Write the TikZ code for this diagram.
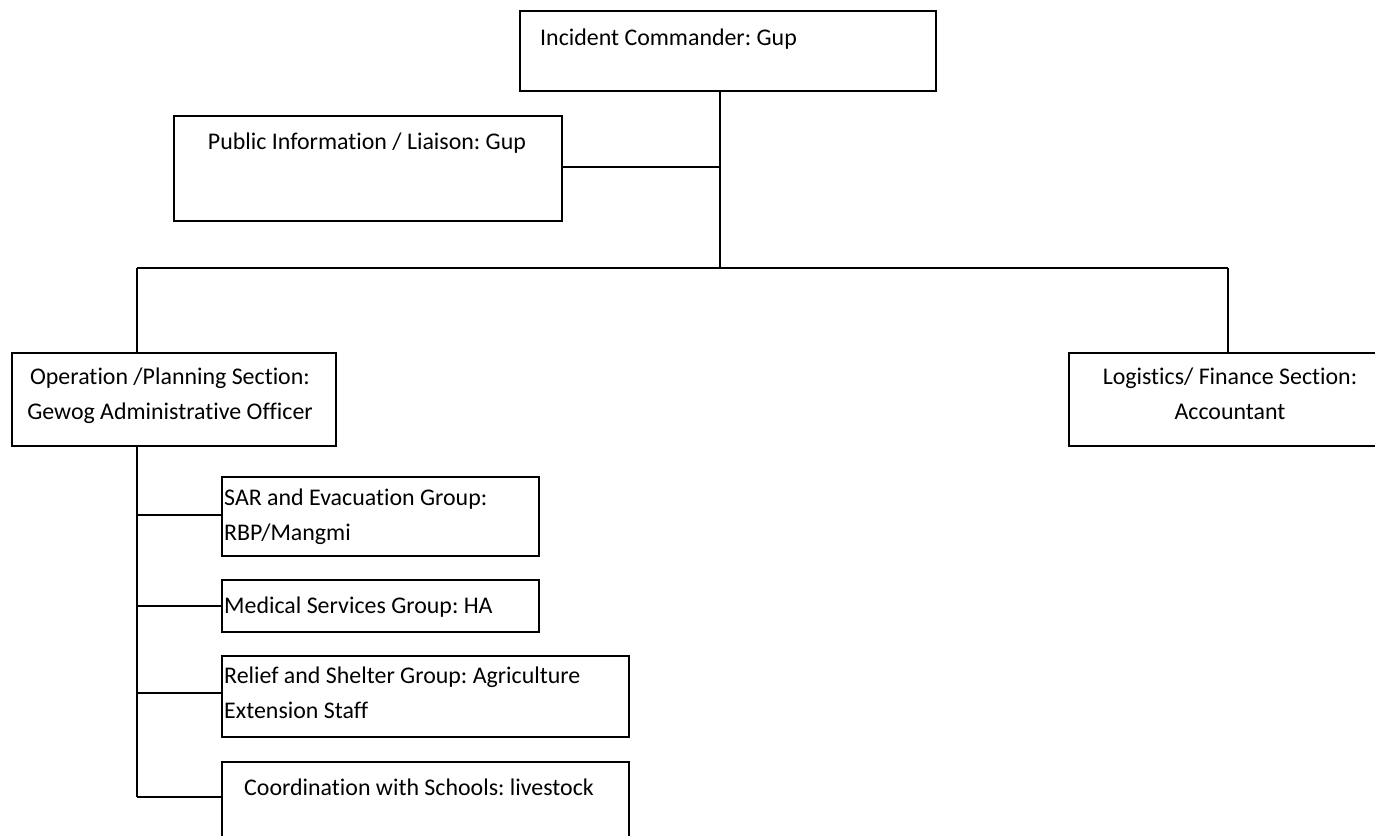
\documentclass[tikz,border=0pt]{standalone}
\usepackage{fontspec}
\setmainfont{Carlito}[Ligatures=NoCommon]
\frenchspacing
\begin{document}
\begin{tikzpicture}[x=1pt,y=-1pt,
  box/.style={draw=black, line width=1.7pt, anchor=north west, inner sep=0pt},
  lbl/.style={inner sep=0pt, font=\fontsize{23.9}{35}\selectfont, align=center},
  link/.style={draw=black, line width=1.7pt}]
\useasboundingbox (0,0) rectangle (1375,835);
\begin{scope}
\clip (0,0) rectangle (1375,835);
% boxes: corner, width, height
\node[box, minimum width=416, minimum height=80] (ic) at (519,10) {};
\node[box, minimum width=388, minimum height=105] (pi) at (173,115) {};
\node[box, minimum width=324, minimum height=93] (op) at (11,352) {};
\node[box, minimum width=310, minimum height=93] (lg) at (1068,352) {};
\node[box, minimum width=317, minimum height=79] (sar) at (221,476) {};
\node[box, minimum width=317, minimum height=52] (med) at (221,579) {};
\node[box, minimum width=407, minimum height=81] (rel) at (221,655) {};
\node[box, minimum width=407, minimum height=80] (co) at (221,761) {};

% texts (multi-line nodes are anchored on their last baseline)
\node[lbl, anchor=base west] (ict) at (540,45) {Incident Commander: Gup};
\node[lbl, anchor=base] (pit) at (367,149) {Public Information / Liaison: Gup};
\node[lbl, anchor=base] (opt) at (170,419) {Operation /Planning Section:\\Gewog Administrative Officer};
\node[lbl, anchor=base] (lgt) at (1230,419) {Logistics/ Finance Section:\\Accountant};
\node[lbl, anchor=base west, align=left] (sart) at (224,540) {SAR and Evacuation Group:\\RBP/Mangmi};
\node[lbl, anchor=base west] (medt) at (224,613) {Medical Services Group: HA};
\node[lbl, anchor=base west, align=left] (relt) at (224,718) {Relief and Shelter Group: Agriculture\\Extension Staff};
\node[lbl, anchor=base west] (cot) at (244,795) {Coordination with Schools: livestock};

% junction points
\coordinate (trunk) at (720,268);
\coordinate (busL) at (137,268);
\coordinate (busR) at (1228,268);
\coordinate (stemEnd) at (137,797);

% connectors
\draw[link] (ic.south -| trunk) -- (trunk);
\draw[link] (pi.east |- 0,167) -- (trunk |- 0,167);
\draw[link] (busL) -- (busR);
\draw[link] (busL) -- (busL |- op.north);
\draw[link] (busR) -- (busR |- lg.north);
\draw[link] (op.south -| stemEnd) -- (stemEnd);
\draw[link] (stemEnd |- 0,515) -- (sar.west |- 0,515);
\draw[link] (stemEnd |- 0,606) -- (med.west |- 0,606);
\draw[link] (stemEnd |- 0,693) -- (rel.west |- 0,693);
\draw[link] (stemEnd) -- (co.west |- stemEnd);
\end{scope}
\end{tikzpicture}
\end{document}
